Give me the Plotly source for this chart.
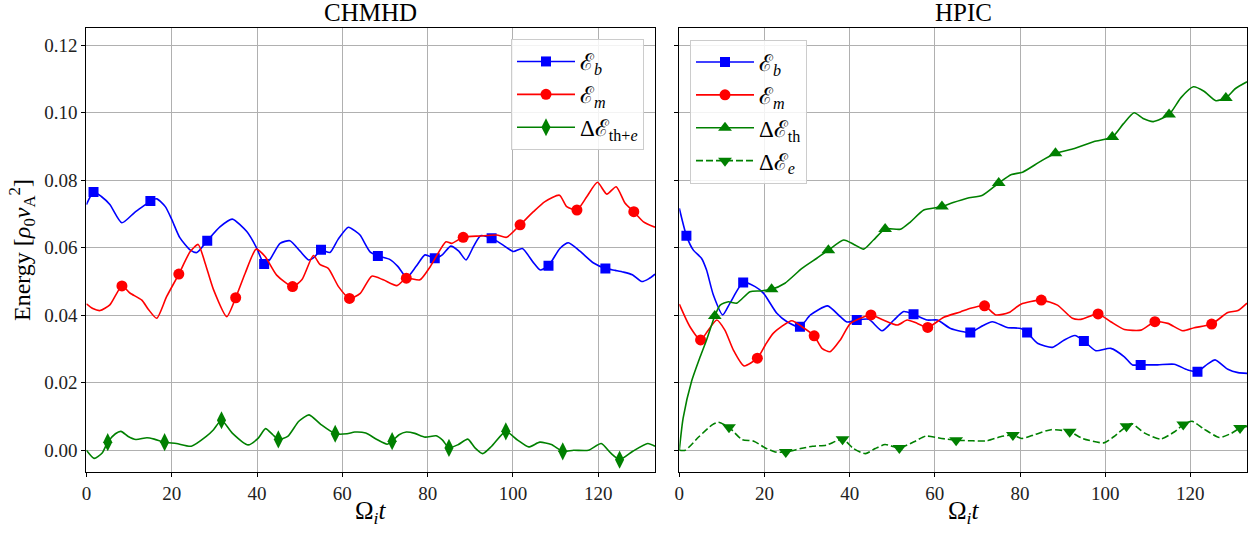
import plotly.graph_objects as go

# ---------------- data ----------------
# CHMHD panel
chm_eb_t = [0, 1.67, 3.5, 5.5, 8.3, 11.4, 14.1, 15.0, 16.5, 18.5, 20.0, 21.9, 24.3, 25.9, 28.33, 31.3,
            34.2, 37.6, 39.9, 41.67, 43.0, 45.4, 47.7, 50.1, 52.1, 53.5, 55.0, 57.1, 59.0, 61.4, 63.2,
            64.2, 66.5, 68.33, 71.2, 73.0, 75.1, 77.3, 79.4, 81.67, 83.5, 85.4, 87.3, 89.0, 90.8, 92.4,
            95.0, 97.7, 100.1, 102.2, 104.8, 106.4, 108.33, 111.0, 113.0, 115.7, 118.9, 121.67, 124.0,
            125.9, 128.0, 130.2, 131.8, 133.3]
chm_eb_v = [0.0728, 0.0765, 0.0752, 0.0728, 0.0674, 0.0706, 0.0730, 0.0739, 0.0745, 0.0722, 0.0684,
            0.0630, 0.0594, 0.0586, 0.0621, 0.0662, 0.0685, 0.0648, 0.0600, 0.0552, 0.0565, 0.0613,
            0.0621, 0.0590, 0.0564, 0.0573, 0.0594, 0.0586, 0.0625, 0.0661, 0.0648, 0.0637, 0.0588,
            0.0576, 0.0565, 0.0545, 0.0512, 0.0545, 0.0579, 0.0569, 0.0580, 0.0605, 0.0590, 0.0564,
            0.0605, 0.0636, 0.0628, 0.0608, 0.0589, 0.0598, 0.0556, 0.0534, 0.0547, 0.0598, 0.0615,
            0.0590, 0.0555, 0.0539, 0.0533, 0.0528, 0.0520, 0.0500, 0.0508, 0.0522]

chm_em_t = [0, 1.5, 3.2, 5.5, 8.33, 10.2, 13.0, 14.5, 16.5, 18.8, 21.67, 24.3, 26.2, 27.8, 29.8, 32.9,
            35.0, 37.2, 39.8, 41.9, 44.6, 48.33, 50.5, 53.2, 54.8, 56.7, 59.1, 61.67, 64.2, 66.9, 69.6,
            72.8, 75.0, 78.2, 80.6, 84.3, 85.6, 88.33, 92.3, 96.2, 98.5, 101.67, 104.8, 107.5, 110.9,
            112.6, 115.0, 117.3, 119.8, 122.0, 124.2, 126.3, 128.33, 130.6, 133.3]
chm_em_v = [0.0434, 0.0420, 0.0414, 0.0431, 0.0487, 0.0466, 0.0445, 0.0418, 0.0391, 0.0455, 0.0522,
            0.0588, 0.0610, 0.0556, 0.0476, 0.0396, 0.0452, 0.0524, 0.0596, 0.0574, 0.0519, 0.0485,
            0.0505, 0.0577, 0.0550, 0.0539, 0.0485, 0.0450, 0.0465, 0.0516, 0.0505, 0.0488, 0.0510,
            0.0505, 0.0544, 0.0618, 0.0613, 0.0631, 0.0635, 0.0638, 0.0631, 0.0668, 0.0707, 0.0737,
            0.0756, 0.0722, 0.0712, 0.0751, 0.0794, 0.0759, 0.0781, 0.0732, 0.0707, 0.0677, 0.0661]

chm_de_t = [0, 1.8, 3.7, 5.0, 6.8, 8.1, 9.8, 11.6, 14.2, 15.9, 18.33, 21.1, 24.6, 28.1, 29.8, 31.67,
            34.2, 37.9, 40.3, 42.0, 43.7, 45.0, 47.2, 49.8, 52.2, 55.0, 58.33, 61.1, 62.9, 65.5, 68.1,
            70.5, 71.67, 73.3, 75.0, 77.0, 79.4, 82.0, 83.5, 85.0, 87.2, 89.4, 91.1, 92.9, 95.0, 98.33,
            101.1, 103.7, 106.3, 109.0, 111.67, 114.2, 117.7, 120.7, 122.9, 125.0, 128.1, 131.6, 133.3]
chm_de_v = [0.0, -0.0024, -0.0008, 0.0024, 0.0049, 0.0056, 0.0041, 0.0032, 0.0037, 0.0033, 0.0024,
            0.0020, 0.0012, 0.0041, 0.0061, 0.0089, 0.0051, 0.0016, 0.0036, 0.0064, 0.0046, 0.0032,
            0.0041, 0.0086, 0.0105, 0.0076, 0.0049, 0.0049, 0.0054, 0.0051, 0.0032, 0.0018, 0.0027,
            0.0046, 0.0054, 0.0050, 0.0039, 0.0043, 0.0030, 0.0007, 0.0017, 0.0033, 0.0007, -0.0010,
            0.0012, 0.0056, 0.0030, 0.0010, 0.0024, 0.0017, -0.0003, 0.0000, 0.0000, 0.0020, -0.0008,
            -0.0028, -0.0003, 0.0020, 0.0012]

# HPIC panel
hp_eb_t = [0, 1.67, 3.3, 5.2, 6.4, 8.0, 10.2, 11.9, 15.0, 17.8, 19.8, 22.9, 25.3, 28.33, 30.8, 34.8,
           37.8, 39.4, 41.67, 44.5, 47.6, 50.4, 52.7, 55.0, 58.2, 60.6, 63.7, 68.33, 70.8, 73.5, 77.0,
           80.2, 81.67, 84.1, 87.6, 90.4, 92.9, 95.0, 97.8, 101.3, 104.5, 106.4, 108.33, 112.3, 116.2,
           119.4, 121.67, 124.1, 125.8, 128.8, 131.2, 133.3]
hp_eb_v = [0.0717, 0.0636, 0.0593, 0.0569, 0.0534, 0.0460, 0.0401, 0.0436, 0.0497, 0.0485, 0.0465,
           0.0406, 0.0381, 0.0366, 0.0401, 0.0428, 0.0396, 0.0380, 0.0386, 0.0388, 0.0354, 0.0386,
           0.0411, 0.0403, 0.0386, 0.0386, 0.0361, 0.0349, 0.0366, 0.0381, 0.0364, 0.0361, 0.0349,
           0.0317, 0.0305, 0.0327, 0.0340, 0.0324, 0.0295, 0.0302, 0.0277, 0.0253, 0.0253, 0.0253,
           0.0255, 0.0238, 0.0233, 0.0256, 0.0268, 0.0240, 0.0230, 0.0228]

hp_em_t = [0, 2.5, 5.0, 6.8, 8.8, 10.7, 12.7, 15.2, 18.33, 20.2, 22.1, 26.4, 28.8, 31.67, 33.5, 35.4,
           37.8, 40.2, 45.0, 47.9, 51.2, 53.5, 55.9, 58.33, 62.1, 66.0, 68.4, 71.67, 74.3, 77.4, 80.2,
           85.0, 88.8, 92.3, 94.3, 98.33, 101.3, 104.5, 108.4, 111.67, 114.7, 118.2, 120.9, 125.0,
           128.8, 131.2, 133.3]
hp_em_v = [0.0433, 0.0366, 0.0327, 0.0356, 0.0386, 0.0356, 0.0297, 0.0250, 0.0273, 0.0312, 0.0347,
           0.0384, 0.0366, 0.0339, 0.0302, 0.0292, 0.0327, 0.0376, 0.0401, 0.0386, 0.0371, 0.0386,
           0.0376, 0.0364, 0.0394, 0.0410, 0.0421, 0.0428, 0.0401, 0.0408, 0.0433, 0.0445, 0.0430,
           0.0391, 0.0388, 0.0404, 0.0381, 0.0358, 0.0356, 0.0381, 0.0376, 0.0354, 0.0363, 0.0374,
           0.0408, 0.0414, 0.0436]

hp_th_t = [0, 0.9, 2.9, 4.9, 6.4, 8.33, 9.6, 11.5, 13.5, 16.6, 19.0, 21.67, 24.8, 28.8, 32.3, 35.0,
           38.6, 41.0, 43.3, 45.6, 48.33, 51.9, 54.3, 57.4, 61.67, 64.3, 67.6, 71.2, 75.0, 78.0, 80.6,
           84.8, 88.33, 92.8, 97.4, 101.67, 104.3, 106.8, 108.9, 111.3, 115.0, 117.8, 120.7, 123.2,
           126.0, 128.33, 130.6, 133.3]
hp_th_v = [0.0, 0.0095, 0.0205, 0.0277, 0.0327, 0.0398, 0.0430, 0.0440, 0.0436, 0.0470, 0.0472,
           0.0477, 0.0495, 0.0539, 0.0569, 0.0593, 0.0623, 0.0610, 0.0596, 0.0623, 0.0656, 0.0655,
           0.0677, 0.0712, 0.0722, 0.0734, 0.0747, 0.0756, 0.0792, 0.0817, 0.0824, 0.0856, 0.0880,
           0.0894, 0.0915, 0.0928, 0.0968, 0.1000, 0.0983, 0.0974, 0.0995, 0.1045, 0.1077, 0.1064,
           0.1036, 0.1044, 0.1072, 0.1092]

hp_ee_t = [0, 1.4, 4.6, 7.8, 9.2, 11.67, 14.7, 17.5, 20.2, 22.5, 25.0, 28.5, 31.3, 34.5, 38.33, 40.9,
           43.7, 46.0, 48.3, 51.67, 55.1, 57.9, 61.6, 65.0, 68.9, 72.2, 75.4, 78.33, 80.4, 83.6, 87.3,
           91.67, 94.7, 99.7, 102.0, 105.0, 106.2, 109.4, 113.0, 116.3, 118.33, 120.4, 123.2, 126.8,
           129.6, 131.67, 133.3]
hp_ee_v = [0.0, 0.0, 0.0040, 0.0076, 0.0083, 0.0068, 0.0032, 0.0027, 0.0007, -0.0005, -0.0005,
           0.0005, 0.0012, 0.0015, 0.0033, 0.0005, -0.0010, 0.0005, 0.0017, 0.0007, 0.0025, 0.0042,
           0.0035, 0.0030, 0.0028, 0.0028, 0.0040, 0.0045, 0.0035, 0.0047, 0.0061, 0.0055, 0.0035,
           0.0022, 0.0040, 0.0071, 0.0079, 0.0050, 0.0033, 0.0055, 0.0076, 0.0086, 0.0063, 0.0038,
           0.0050, 0.0066, 0.0071]

panel_titles = ["CHMHD", "HPIC"]
x_ticks = [0, 20, 40, 60, 80, 100, 120]
y_ticks = [0.00, 0.02, 0.04, 0.06, 0.08, 0.10, 0.12]
y_tick_text = ["0.00", "0.02", "0.04", "0.06", "0.08", "0.10", "0.12"]

# ---------------- style ----------------
FONT = "Liberation Serif, DejaVu Serif, serif"
BLUE, RED, GREEN = "#0000ff", "#ff0000", "#008000"
MARK_STEP = 40.0 / 3.0   # markevery spacing in time units
T_MAX = 133.3

W, H = 1253, 535
XL = (86.4 / W, 655.0 / W)
XR = (679.3 / W, 1247.0 / W)
YD = (1 - 471.7 / H, 1 - 28.1 / H)

fig = go.Figure()


def marker_points(t, v, start):
    mt, mv = [], []
    k = 0
    while start + k * MARK_STEP <= T_MAX + 0.01:
        target = start + k * MARK_STEP
        i = min(range(len(t)), key=lambda j: abs(t[j] - target))
        mt.append(t[i]); mv.append(v[i])
        k += 1
    return mt, mv


def add_series(t, v, name, color, symbol, msize, start, xa, ya, legend, dash="solid"):
    fig.add_trace(go.Scatter(x=t, y=v, mode="lines", xaxis=xa, yaxis=ya, showlegend=False,
                             line=dict(color=color, width=1.6, dash=dash, shape="spline", smoothing=0.6),
                             hoverinfo="skip"))
    mt, mv = marker_points(t, v, start)
    fig.add_trace(go.Scatter(x=mt, y=mv, mode="markers", xaxis=xa, yaxis=ya, showlegend=False,
                             marker=dict(color=color, symbol=symbol, size=msize, line=dict(width=0))))
    fig.add_trace(go.Scatter(x=[None], y=[None], mode="lines+markers", xaxis=xa, yaxis=ya,
                             name=name, legend=legend, legendgroup=name + legend,
                             line=dict(color=color, width=1.6, dash=dash),
                             marker=dict(color=color, symbol=symbol, size=msize, line=dict(width=0))))


DASH = "7px,3px"
add_series(chm_eb_t, chm_eb_v, "ℰ<sub><i>b</i></sub>", BLUE, "square", 10, 5 / 3, "x", "y", "legend")
add_series(chm_em_t, chm_em_v, "ℰ<sub><i>m</i></sub>", RED, "circle", 11, 25 / 3, "x", "y", "legend")
add_series(chm_de_t, chm_de_v, "Δℰ<sub>th+<i>e</i></sub>", GREEN, "diamond-tall", 13, 5.0, "x", "y", "legend")

add_series(hp_eb_t, hp_eb_v, "ℰ<sub><i>b</i></sub>", BLUE, "square", 10, 5 / 3, "x2", "y2", "legend2")
add_series(hp_em_t, hp_em_v, "ℰ<sub><i>m</i></sub>", RED, "circle", 11, 5.0, "x2", "y2", "legend2")
add_series(hp_th_t, hp_th_v, "Δℰ<sub>th</sub>", GREEN, "triangle-up", 12, 25 / 3, "x2", "y2", "legend2")
add_series(hp_ee_t, hp_ee_v, "Δℰ<sub><i>e</i></sub>", GREEN, "triangle-down", 12, 35 / 3, "x2", "y2", "legend2",
           dash=DASH)

axis_common = dict(showline=True, linecolor="black", linewidth=1, mirror=True,
                   ticks="outside", ticklen=4, tickwidth=1, tickcolor="black",
                   showgrid=True, gridcolor="#b0b0b0", gridwidth=1, zeroline=False,
                   tickfont=dict(family=FONT, size=19, color="#222"), automargin=False)

legend_common = dict(bgcolor="rgba(255,255,255,0.85)", bordercolor="#cccccc", borderwidth=1,
                     font=dict(family=FONT, size=23), tracegroupgap=0, traceorder="grouped",
                     itemwidth=58)

fig.update_layout(
    width=W, height=H, margin=dict(l=0, r=0, t=0, b=0),
    paper_bgcolor="white", plot_bgcolor="white",
    font=dict(family=FONT, color="black"),
    xaxis=dict(domain=XL, range=[0, T_MAX], tickvals=x_ticks, anchor="y", **axis_common),
    yaxis=dict(domain=YD, range=[-0.00635, 0.1251], tickvals=y_ticks, ticktext=y_tick_text,
               anchor="x", **axis_common),
    xaxis2=dict(domain=XR, range=[0, T_MAX], tickvals=x_ticks, anchor="y2", **axis_common),
    yaxis2=dict(domain=YD, range=[-0.00635, 0.1251], tickvals=y_ticks, showticklabels=False,
                anchor="x2", matches="y", **axis_common),
    legend=dict(x=644 / W, y=1 - 39 / H, xanchor="right", yanchor="top", **legend_common),
    legend2=dict(x=690 / W, y=1 - 39.5 / H, xanchor="left", yanchor="top", **legend_common),
)

ann = []
for title, (a, b) in zip(panel_titles, [XL, XR]):
    ann.append(dict(text=title, x=(a + b) / 2, y=1 - 13 / H, xref="paper", yref="paper",
                    showarrow=False, font=dict(family=FONT, size=25), xanchor="center", yanchor="middle"))
    ann.append(dict(text="Ω<sub><i>i</i></sub><i>t</i>", x=(a + b) / 2, y=1 - 512 / H, xref="paper",
                    yref="paper", showarrow=False, font=dict(family=FONT, size=25),
                    xanchor="center", yanchor="middle"))
ann.append(dict(text="Energy [<i>ρ</i><sub>0</sub><i>v</i><sub>A</sub><sup>2</sup>]", x=22 / W,
                y=1 - 250 / H, xref="paper", yref="paper", showarrow=False, textangle=-90,
                font=dict(family=FONT, size=24), xanchor="center", yanchor="middle"))
fig.update_layout(annotations=ann)

fig.write_html("out.html")
